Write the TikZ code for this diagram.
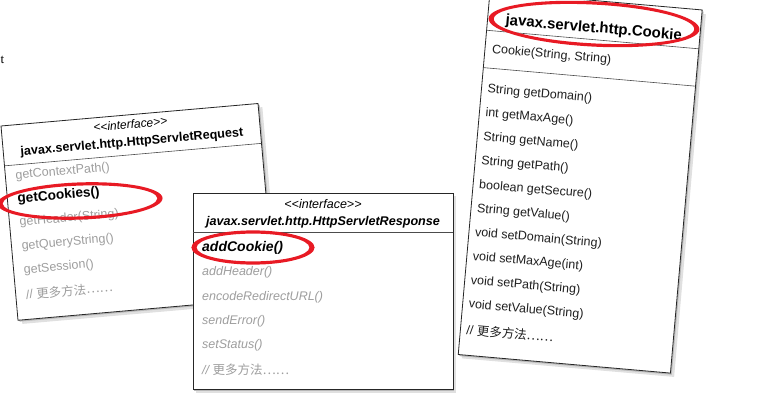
\documentclass[tikz,border=0pt]{standalone}
\usepackage{fontspec}
\setmainfont{Liberation Sans}
\newfontfamily\cjkfont{Noto Sans CJK SC}
\newfontfamily\seriffont{Liberation Serif}
\definecolor{markred}{RGB}{232,26,36}
\newcommand{\redring}[5]{% center x, center y, rx, ry, angle
  \fill[markred, even odd rule, rotate around={#5:(#1,#2)}]
    (#1,#2) ellipse [x radius=#3+2.6, y radius=#4+1.6]
    (#1,#2) ellipse [x radius=#3-2.6, y radius=#4-1.6];}
\begin{document}
\begin{tikzpicture}[x=1pt,y=-1pt,
  box/.style={draw=black!85, line width=0.8pt, fill=white},
  sepline/.style={draw=black!70, line width=0.6pt},
  shadefar/.style={fill=black!12},
  shadenear/.style={fill=black!28},
  txt/.style={inner sep=0pt, transform shape},
  reg/.style={txt, font=\fontsize{12.5}{14}\selectfont},
  ita/.style={txt, font=\itshape\fontsize{12.5}{14}\selectfont},
  meth/.style={reg, anchor=west, text=black!88},
  dimup/.style={reg, anchor=west, text=black!38},
  dimit/.style={ita, anchor=west, text=black!38},
]
\useasboundingbox (0,0) rectangle (781,404);
\fill[white] (0,0) rectangle (781,404);
\clip (0,0) rectangle (781,404);

\node[inner sep=0pt, anchor=west, font=\seriffont\fontsize{13}{15}\selectfont] (frag) at (0.5,60) {t};

% ---------- HttpServletRequest ----------
\begin{scope}[shift={(1,126)}, rotate=5]
  \fill[shadefar] (4,4) rectangle (262,199);
  \fill[shadenear] (1.5,1.5) rectangle (259.5,196.5);
  \draw[box] (0,0) rectangle (258,195);
  \draw[sepline] (0,40) -- (258,40);
  \node[txt, font=\itshape\fontsize{12}{14}\selectfont] (reqst) at (129,9.5) {<{}<interface>{}>};
  \node[txt, font=\bfseries\fontsize{12.6}{14}\selectfont] (reqtitle) at (129,28) {javax.servlet.http.HttpServletRequest};
  \node[dimup] (rq1) at (10,51) {getContextPath()};
  \node[txt, anchor=west, font=\bfseries\fontsize{13.6}{15}\selectfont] (rq2) at (10,74.5) {getCookies()};
  \node[dimup] (rq3) at (10,98) {getHeader(String)};
  \node[dimup] (rq4) at (10,122) {getQueryString()};
  \node[dimup] (rq5) at (10,146) {getSession()};
  \node[dimup] (rq6) at (10,170) {// {\cjkfont 更多方法……}};
\end{scope}
\redring{80}{201}{80}{17}{2}

% ---------- HttpServletResponse ----------
\begin{scope}[shift={(193,193)}]
  \fill[shadefar] (3,3) rectangle (263,199.5);
  \fill[shadenear] (1.2,1.2) rectangle (261.2,197.5);
  \draw[box] (0,0) rectangle (260,196);
  \draw[sepline] (0,39) -- (260,39);
  \node[ita] (rsst) at (130,11) {<{}<interface>{}>};
  \node[txt, font=\bfseries\itshape\fontsize{12.6}{14}\selectfont] (rstitle) at (130,29) {javax.servlet.http.HttpServletResponse};
  \node[txt, anchor=west, font=\bfseries\itshape\fontsize{14}{16}\selectfont] (rs1) at (9,55) {addCookie()};
  \node[dimit] (rs2) at (9,79.4) {addHeader()};
  \node[dimit] (rs3) at (9,103.8) {encodeRedirectURL()};
  \node[dimit] (rs4) at (9,128.2) {sendError()};
  \node[dimit] (rs5) at (9,152.6) {setStatus()};
  \node[dimit] (rs6) at (9,177) {// {\cjkfont 更多方法……}};
\end{scope}
\redring{253}{247.5}{59}{15.5}{0}

% ---------- Cookie ----------
\begin{scope}[shift={(490,-8.6)}, rotate=-5]
  \fill[shadefar] (4,4) rectangle (217,368);
  \fill[shadenear] (1.5,1.5) rectangle (214.5,366);
  \draw[box] (0,0) rectangle (213,364.5);
  \draw[sepline] (0,39) -- (213,39);
  \draw[sepline] (0,76.5) -- (213,76.5);
  \node[txt, font=\bfseries\fontsize{15}{17}\selectfont] (cktitle) at (106.5,28) {javax.servlet.http.Cookie};
  \node[meth] (ck0) at (7,58) {Cookie(String, String)};
  \node[meth] (ck1) at (6,98) {String getDomain()};
  \node[meth] (ck2) at (6,122) {int getMaxAge()};
  \node[meth] (ck3) at (6,146) {String getName()};
  \node[meth] (ck4) at (6,170) {String getPath()};
  \node[meth] (ck5) at (6,194) {boolean getSecure()};
  \node[meth] (ck6) at (6,218) {String getValue()};
  \node[meth] (ck7) at (6,242) {void setDomain(String)};
  \node[meth] (ck8) at (6,266) {void setMaxAge(int)};
  \node[meth] (ck9) at (6,290) {void setPath(String)};
  \node[meth] (ck10) at (6,314) {void setValue(String)};
  \node[meth] (ck11) at (6,339) {// {\cjkfont 更多方法……}};
\end{scope}
\redring{594}{24}{103}{21}{-3}
\end{tikzpicture}
\end{document}
